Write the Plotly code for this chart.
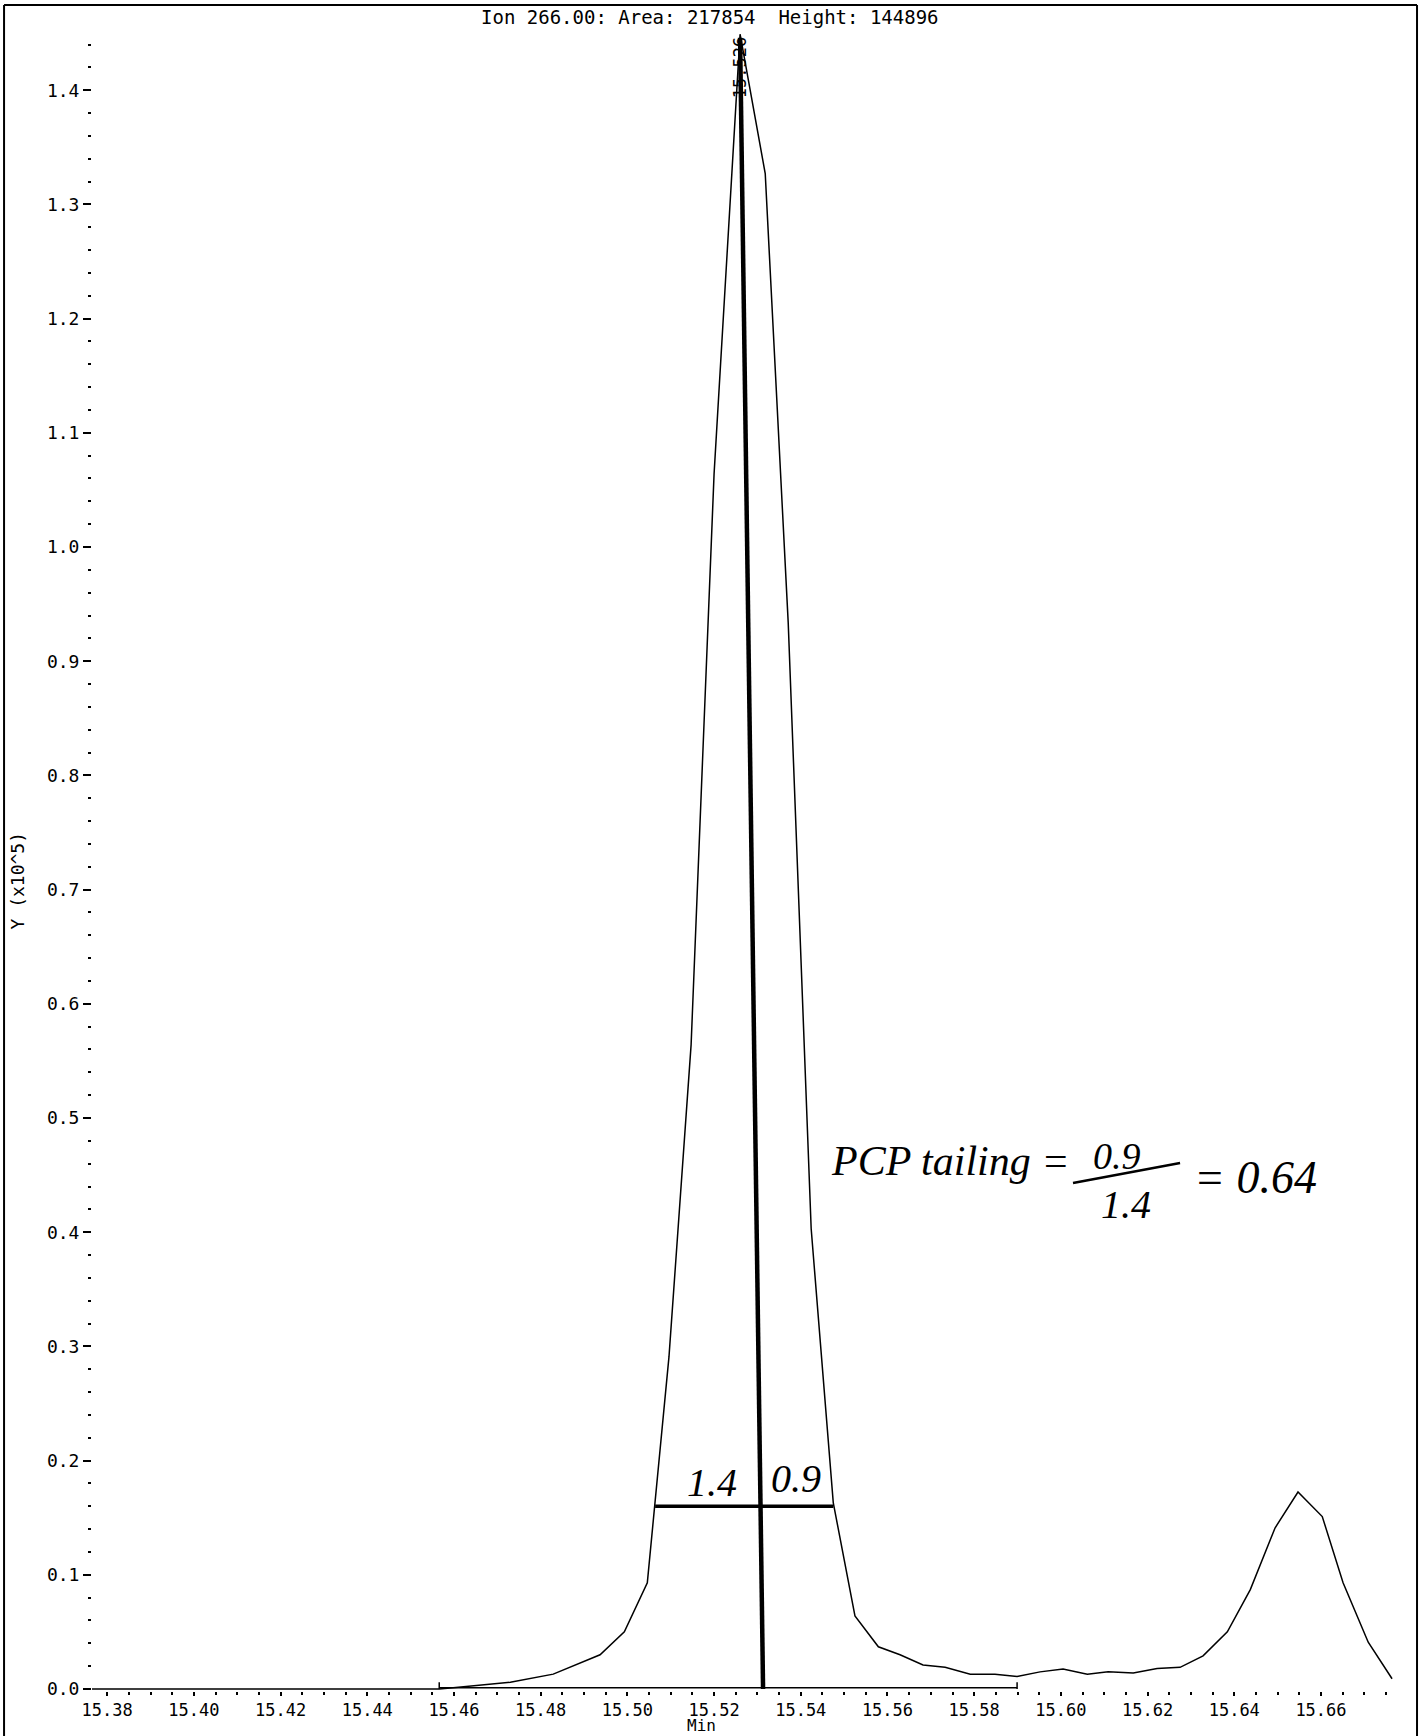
import plotly.graph_objects as go

# ---- data ----
time_min = [15.3761, 15.4566, 15.4598, 15.4730, 15.4829, 15.4937, 15.4993, 15.5046,
            15.5096, 15.5147, 15.5200, 15.5260, 15.5318, 15.5371, 15.5424, 15.5475,
            15.5525, 15.5579, 15.5629, 15.5682, 15.5733, 15.5791, 15.5848, 15.5899,
            15.5952, 15.6005, 15.6061, 15.6109, 15.6167, 15.6222, 15.6275, 15.6328,
            15.6384, 15.6437, 15.6494, 15.6547, 15.6603, 15.6651, 15.6709, 15.6764]
intensity = [0, 0, 0.001, 0.006, 0.013, 0.030, 0.050, 0.093,
             0.291, 0.564, 1.064, 1.449, 1.327, 0.934, 0.403, 0.163,
             0.064, 0.037, 0.030, 0.021, 0.019, 0.013, 0.013, 0.011,
             0.015, 0.0175, 0.013, 0.015, 0.014, 0.018, 0.019, 0.029,
             0.050, 0.087, 0.141, 0.1725, 0.151, 0.093, 0.041, 0.009]

x_tick_vals = [15.38, 15.40, 15.42, 15.44, 15.46, 15.48, 15.50, 15.52, 15.54, 15.56, 15.58, 15.60, 15.62, 15.64, 15.66]
x_tick_text = ["15.38", "15.40", "15.42", "15.44", "15.46", "15.48", "15.50", "15.52", "15.54", "15.56", "15.58", "15.60", "15.62", "15.64", "15.66"]
y_tick_vals = [0.0, 0.1, 0.2, 0.3, 0.4, 0.5, 0.6, 0.7, 0.8, 0.9, 1.0, 1.1, 1.2, 1.3, 1.4]
y_tick_text = ["0.0", "0.1", "0.2", "0.3", "0.4", "0.5", "0.6", "0.7", "0.8", "0.9", "1.0", "1.1", "1.2", "1.3", "1.4"]

title_text = "Ion 266.00: Area: 217854\u00a0\u00a0Height: 144896"
peak_rt = 15.526
peak_label = "15.526"
baseline_start, baseline_end = 15.4566, 15.5899
half_height = 0.160
half_left, half_right = 15.5064, 15.5475
marker_top_t, marker_bottom_t = 15.5260, 15.5313
front_label, tail_label = "1.4", "0.9"
result_label = "= 0.64"

MONO = "DejaVu Sans Mono"
HAND = "Liberation Serif"

fig = go.Figure()
fig.add_trace(go.Scatter(x=time_min, y=intensity, mode="lines",
                         line=dict(color="black", width=1.5), showlegend=False,
                         hoverinfo="skip"))

shapes = []
# integration baseline with end markers
shapes.append(dict(type="line", xref="x", yref="y", x0=baseline_start, x1=baseline_end,
                   y0=0.001, y1=0.001, line=dict(color="black", width=1.5)))
for bt in (baseline_start, baseline_end):
    shapes.append(dict(type="line", xref="x", yref="y", x0=bt, x1=bt, y0=0, y1=0.006,
                       line=dict(color="black", width=1.5)))
# hand-drawn marks
shapes.append(dict(type="line", xref="x", yref="y", x0=marker_top_t, x1=marker_bottom_t,
                   y0=1.446, y1=0.0, line=dict(color="black", width=4.5)))
shapes.append(dict(type="line", xref="x", yref="y", x0=half_left, x1=half_right,
                   y0=half_height, y1=half_height, line=dict(color="black", width=3.5)))
# fraction bar
shapes.append(dict(type="line", xref="x", yref="y", x0=15.6028, x1=15.6275,
                   y0=0.4431, y1=0.4606, line=dict(color="black", width=2.5)))
# page frame
shapes.append(dict(type="line", xref="paper", yref="paper", x0=-0.0675, x1=-0.0675,
                   y0=-0.03, y1=1.0102, line=dict(color="black", width=2)))
shapes.append(dict(type="line", xref="paper", yref="paper", x0=-0.0675, x1=1.0169,
                   y0=1.0102, y1=1.0102, line=dict(color="black", width=2)))
shapes.append(dict(type="line", xref="paper", yref="paper", x0=1.0169, x1=1.0169,
                   y0=-0.03, y1=1.0102, line=dict(color="black", width=2)))

annotations = [
    dict(text=title_text, xref="x", yref="paper", x=15.519, y=1.0, yanchor="middle",
         yshift=5, showarrow=False, font=dict(family=MONO, size=19, color="black")),
    dict(text="Y (x10^5)", xref="paper", yref="y", x=0, y=0.7075, xshift=-87,
         textangle=-90, showarrow=False, font=dict(family=MONO, size=18, color="black")),
    dict(text="Min", xref="x", yref="paper", x=15.517, y=0, yanchor="bottom", yshift=-46,
         showarrow=False, font=dict(family=MONO, size=16, color="black")),
    dict(text=peak_label, xref="x", yref="y", x=peak_rt, y=1.4194, textangle=-90,
         showarrow=False, font=dict(family=MONO, size=17, color="black")),
    dict(text=front_label, xref="x", yref="y", x=15.5196, y=0.1804, showarrow=False,
         font=dict(family=HAND, size=40, color="black", style="italic")),
    dict(text=tail_label, xref="x", yref="y", x=15.5389, y=0.1839, showarrow=False,
         font=dict(family=HAND, size=40, color="black", style="italic")),
    dict(text="PCP tailing =", xref="x", yref="y", x=15.5745, y=0.4623, showarrow=False,
         font=dict(family=HAND, size=42, color="black", style="italic")),
    dict(text="0.9", xref="x", yref="y", x=15.6130, y=0.4670, showarrow=False,
         font=dict(family=HAND, size=38, color="black", style="italic")),
    dict(text="1.4", xref="x", yref="y", x=15.6150, y=0.4240, showarrow=False,
         font=dict(family=HAND, size=40, color="black", style="italic")),
    dict(text=result_label, xref="x", yref="y", x=15.6450, y=0.4480, showarrow=False,
         font=dict(family=HAND, size=46, color="black", style="italic")),
]

x_lo = 15.3765
x_hi = x_lo + (1422 - 92 - 27) / 4335.0
y_lo = -(1736 - 45 - 1689) / 1142.0
y_hi = y_lo + (1736 - 22 - 45) / 1142.0

fig.update_layout(
    width=1422, height=1736,
    margin=dict(l=92, r=27, t=22, b=45),
    paper_bgcolor="white", plot_bgcolor="white",
    shapes=shapes, annotations=annotations,
    xaxis=dict(range=[x_lo, x_hi], showgrid=False, zeroline=False, showline=False,
               tickvals=x_tick_vals, ticktext=x_tick_text, ticks="outside", ticklen=4,
               tickwidth=1.5, tickcolor="black",
               minor=dict(dtick=0.005, tick0=15.38, ticks="outside", ticklen=3, tickwidth=1.5,
                          tickcolor="black", showgrid=False),
               tickfont=dict(family=MONO, size=17, color="black")),
    yaxis=dict(range=[y_lo, y_hi], showgrid=False, zeroline=False, showline=False,
               tickvals=y_tick_vals, ticktext=y_tick_text, ticks="outside", ticklen=8,
               tickwidth=1.5, tickcolor="black",
               minor=dict(dtick=0.02, tick0=0, ticks="outside", ticklen=3, tickwidth=1.5,
                          tickcolor="black", showgrid=False),
               tickfont=dict(family=MONO, size=18, color="black")),
)

fig.write_html("out.html", config={"displayModeBar": False},
               post_script="document.body.style.margin='0';document.body.style.overflow='hidden';")
